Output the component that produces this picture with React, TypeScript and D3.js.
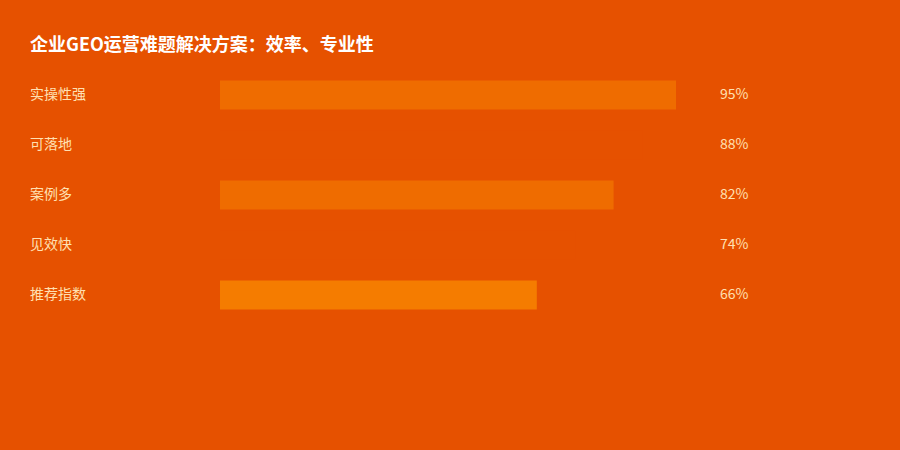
import * as d3 from 'd3';
import { useEffect, useRef } from 'react';

const title = '企业GEO运营难题解决方案：效率、专业性';
const categories = ['实操性强', '可落地', '案例多', '见效快', '推荐指数'];
const values = [95, 88, 82, 74, 66];
const barColors = ['#ef6c00', '#e65100', '#ef6c00', '#e65100', '#f57c00'];

const W = 900;
const H = 450;
const FONT = '"Noto Sans CJK SC", "Noto Sans", sans-serif';

const App = () => {
  const ref = useRef<SVGSVGElement>(null);

  useEffect(() => {
    const svg = d3.select(ref.current);
    svg.selectAll('*').remove();

    svg.append('rect').attr('width', W).attr('height', H).attr('fill', '#e65100');

    svg
      .append('text')
      .attr('x', 30)
      .attr('y', 51)
      .attr('fill', '#ffffff')
      .style('font-family', FONT)
      .style('font-size', '18px')
      .style('font-weight', 'bold')
      .text(title);

    const x = d3.scaleLinear().domain([0, 100]).range([220, 700]);
    const y = d3
      .scaleBand()
      .domain(categories)
      .range([70, 320])
      .paddingInner(0.42)
      .paddingOuter(0.21);

    const rows = svg
      .selectAll('.row')
      .data(categories)
      .enter()
      .append('g')
      .attr('class', 'row');

    rows
      .append('rect')
      .attr('x', x(0))
      .attr('y', (d) => y(d) as number)
      .attr('width', (d, i) => x(values[i]) - x(0))
      .attr('height', y.bandwidth())
      .attr('fill', (d, i) => barColors[i]);

    rows
      .append('text')
      .attr('x', 30)
      .attr('y', (d) => (y(d) as number) + y.bandwidth() / 2)
      .attr('dy', '0.3em')
      .attr('fill', '#ffe0b2')
      .style('font-family', FONT)
      .style('font-size', '14px')
      .text((d) => d);

    rows
      .append('text')
      .attr('x', 720)
      .attr('y', (d) => (y(d) as number) + y.bandwidth() / 2)
      .attr('dy', '0.3em')
      .attr('fill', '#ffe0b2')
      .style('font-family', FONT)
      .style('font-size', '14px')
      .text((d, i) => values[i] + '%');
  }, []);

  return (
    <div style={{ position: 'absolute', left: 0, top: 0 }}>
      <svg ref={ref} width={W} height={H} style={{ display: 'block' }}></svg>
    </div>
  );
};

export default App;
